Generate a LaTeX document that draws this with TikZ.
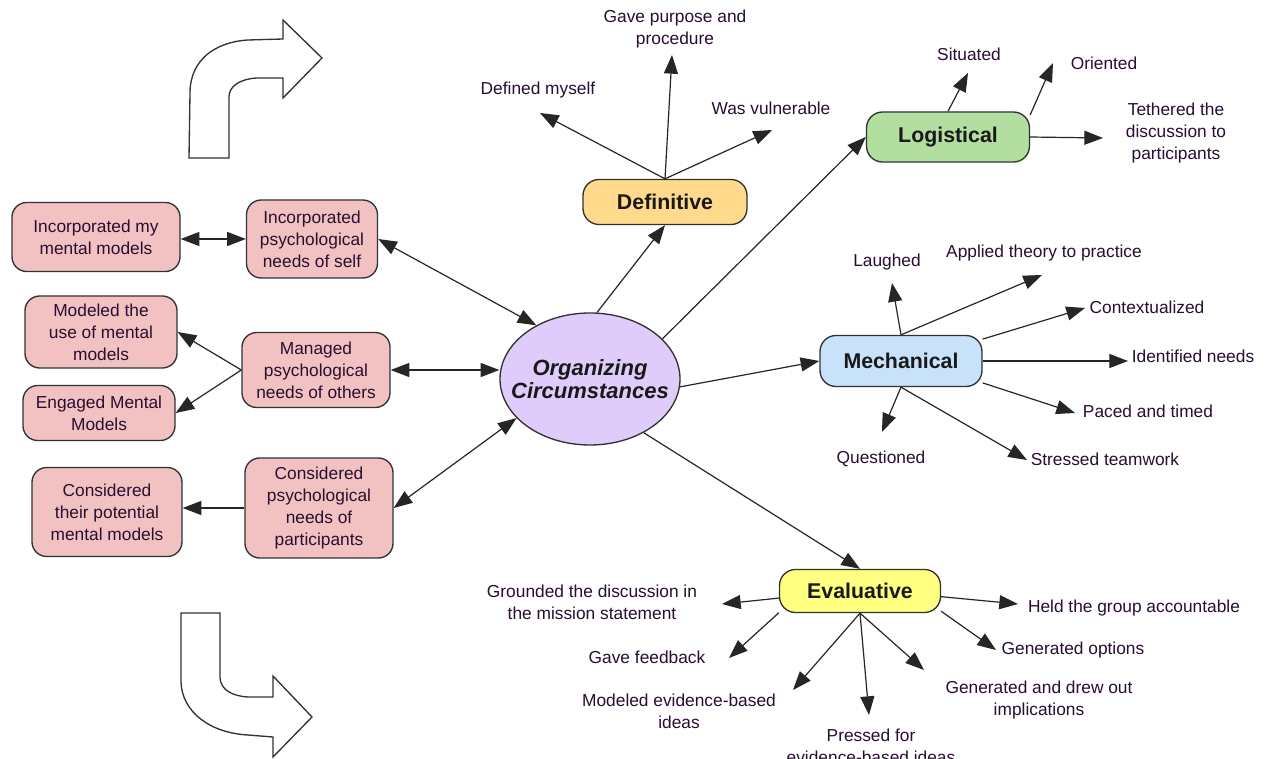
\documentclass[tikz,border=0pt]{standalone}
\usepackage{fontspec}
\setmainfont{Liberation Sans}
\setsansfont{Liberation Sans}
\usetikzlibrary{arrows.meta,shapes.geometric,calc}

\definecolor{ink}{RGB}{40,14,48}
\definecolor{edgegray}{RGB}{50,50,50}
\definecolor{pinkfill}{RGB}{242,194,194}
\definecolor{deffill}{RGB}{255,217,140}
\definecolor{logfill}{RGB}{178,222,160}
\definecolor{mechfill}{RGB}{200,226,250}
\definecolor{evalfill}{RGB}{255,255,128}
\definecolor{corefill}{RGB}{224,204,250}

\begin{document}
\begin{tikzpicture}[x=0.75pt,y=-0.75pt,
  txt/.style={font=\fontsize{13}{16.4}\selectfont, text=ink, align=center, inner sep=0pt},
  pinkbox/.style={txt, draw=edgegray, line width=1pt, fill=pinkfill, rounded corners=11pt},
  catbox/.style={draw=edgegray, line width=1pt, rounded corners=12pt, inner sep=0pt,
    font=\fontsize{16}{19}\selectfont\bfseries, text=black!90},
  link/.style={draw=black!85, line width=0.9pt, -{Triangle[length=14pt,width=10.5pt]}},
  dlink/.style={draw=black!85, line width=0.9pt, {Triangle[length=14pt,width=10.5pt]}-{Triangle[length=14pt,width=10.5pt]}},
  bigarrow/.style={draw=edgegray, line width=1pt, fill=white, line join=miter}
]
\useasboundingbox (0,0) rectangle (1265,759);
\clip (0,0) rectangle (1265,759);
\fill[white] (0,0) rectangle (1265,759);

% outline turning arrows on the left
\path[bigarrow] (189,158) -- (190,93) .. controls (190,60) and (215,42) .. (248,40)
  -- (283,39) -- (283,20) -- (322,58) -- (283,98) -- (283,78) -- (257,78)
  .. controls (240,79) and (229,86) .. (229,97) -- (229,158) -- cycle;
\path[bigarrow] (181,613) -- (220,613) -- (220,678) .. controls (221,690) and (232,696) .. (248,697)
  -- (273,697) -- (273,676) -- (312,717) -- (273,757) -- (273,737) -- (248,735)
  .. controls (210,733) and (182,712) .. (181,682) -- cycle;

% central concept: fixed-size ellipse with its title on top
\node[ellipse, draw=edgegray, line width=1pt, fill=corefill, minimum width=135pt, minimum height=99pt,
  inner sep=0pt] (core) at (590,379) {};
\node[align=center, inner sep=0pt, font=\fontsize{16.5}{17.5}\selectfont\bfseries\itshape, text=black!90]
  (coretitle) at (core.center) {Organizing\\Circumstances};

% psychological needs (left)
\node[pinkbox, minimum width=126pt, minimum height=51.75pt] (incmy) at (96,237) {Incorporated my\\mental models};
\node[pinkbox, minimum width=98.25pt, minimum height=58.5pt] (incself) at (312,239) {Incorporated\\psychological\\needs of self};
\node[pinkbox, minimum width=114pt, minimum height=54pt] (modeled) at (101,332) {Modeled the\\use of mental\\models};
\node[pinkbox, minimum width=114pt, minimum height=41.25pt] (engaged) at (99,413) {Engaged Mental\\Models};
\node[pinkbox, minimum width=111pt, minimum height=56.25pt] (managed) at (316,370) {Managed\\psychological\\needs of others};
\node[pinkbox, minimum width=112.5pt, minimum height=66.75pt] (their) at (107,512) {Considered\\their potential\\mental models};
\node[pinkbox, minimum width=111pt, minimum height=75pt] (partic) at (319,508) {Considered\\psychological\\needs of\\participants};

% categories
\node[catbox, fill=deffill, minimum width=123pt, minimum height=33.75pt] (def) at (665,202) {Definitive};
\node[catbox, fill=logfill, minimum width=122.25pt, minimum height=37.5pt] (log) at (948,137) {Logistical};
\node[catbox, fill=mechfill, minimum width=121.5pt, minimum height=38.25pt] (mech) at (901,361) {Mechanical};
\node[catbox, fill=evalfill, minimum width=120.75pt, minimum height=32.25pt] (eval) at (860,591) {Evaluative};

% definitive items
\node[txt] (ldefmy) at (538,90) {Defined myself};
\node[txt] (lgave) at (675,29) {Gave purpose and\\procedure};
\node[txt] (lvul) at (771,108) {Was vulnerable};
\coordinate (tdefmy) at (540,113);
\coordinate (tgave) at (672,55);
\coordinate (tvul) at (772,130);

% logistical items
\node[txt] (lsit) at (969,54) {Situated};
\node[txt] (lori) at (1104,63) {Oriented};
\node[txt] (lteth) at (1176,133) {Tethered the\\discussion to\\participants};
\coordinate (tsit) at (968,73);
\coordinate (tori) at (1053,63);
\coordinate (tteth) at (1103,138);

% mechanical items
\node[txt] (llaugh) at (887,262) {Laughed};
\node[txt] (lapp) at (1044,253) {Applied theory to practice};
\node[txt] (lctx) at (1147,307) {Contextualized};
\node[txt] (lidn) at (1193,356) {Identified needs};
\node[txt] (lpace) at (1148,411) {Paced and timed};
\node[txt] (lteam) at (1105,459) {Stressed teamwork};
\node[txt] (lquest) at (881,459) {Questioned};
\coordinate (tlaugh) at (892,283);
\coordinate (tapp) at (1042,275);
\coordinate (tctx) at (1085,308);
\coordinate (tidn) at (1128,361);
\coordinate (tpace) at (1075,413);
\coordinate (tteam) at (1027,460);
\coordinate (tquest) at (882,432);

% evaluative items
\node[txt] (lground) at (592,602) {Grounded the discussion in\\the mission statement};
\node[txt] (lfeed) at (647,657) {Gave feedback};
\node[txt] (lmodev) at (679,711) {Modeled evidence-based\\ideas};
\node[txt] (lpress) at (871,746) {Pressed for\\evidence-based ideas};
\node[txt] (limpl) at (1039,700) {Generated and drew out\\implications};
\node[txt] (lopts) at (1073,650) {Generated options};
\node[txt] (lheld) at (1134,608) {Held the group accountable};
\coordinate (tground) at (722,604);
\coordinate (tfeed) at (729,658);
\coordinate (tmodev) at (793,690);
\coordinate (tpress) at (869,715);
\coordinate (timpl) at (924,670);
\coordinate (topts) at (996,650);
\coordinate (theld) at (1018,604);

% connectors: psychological needs
\draw[dlink] (incmy.east |- incself.west) -- (incself.west);
\draw[dlink] (incself.east) -- (core.135);
\draw[dlink] (managed.east) -- (core.west |- managed.east);
\draw[dlink] (partic.east) -- (core.208);
\draw[link] (managed.west) -- (modeled.east);
\draw[link] (managed.west) -- (engaged.east);
\draw[link] (partic.west) -- (their.east |- partic.west);

% connectors: core to categories
\draw[link] (core.84) -- (def.south);
\draw[link] (core.29) -- (log.west);
\draw[link] (core.-5) -- (mech.west);
\draw[link] (core.-45) -- (eval.north);

% connectors: definitive
\draw[link] (def.north) -- (tdefmy);
\draw[link] (def.north) -- (tgave);
\draw[link] (def.north) -- (tvul);

% connectors: logistical
\draw[link] (log.north) -- (tsit);
\draw[link] (log.15) -- (tori);
\draw[link] (log.east) -- (tteth);

% connectors: mechanical
\draw[link] (mech.north) -- (tlaugh);
\draw[link] (mech.north) -- (tapp);
\draw[link] (mech.15) -- (tctx);
\draw[link] (mech.east) -- (tidn);
\draw[link] (mech.-15) -- (tpace);
\draw[link] (mech.south) -- (tteam);
\draw[link] (mech.south) -- (tquest);

% connectors: evaluative
\draw[link] (eval.185) -- (tground);
\draw[link] (eval.195) -- (tfeed);
\draw[link] (eval.south) -- (tmodev);
\draw[link] (eval.south) -- (tpress);
\draw[link] (eval.south) -- (timpl);
\draw[link] (eval.-14) -- (topts);
\draw[link] (eval.-4) -- (theld);
\end{tikzpicture}
\end{document}
